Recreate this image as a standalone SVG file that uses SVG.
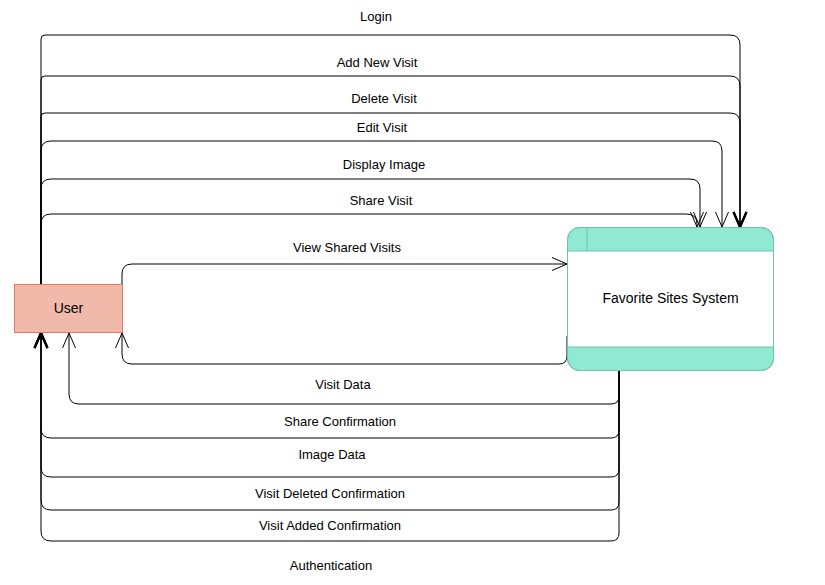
<svg xmlns="http://www.w3.org/2000/svg" width="825" height="585" viewBox="0 0 825 585">
<defs>
<marker id="open" markerUnits="userSpaceOnUse" viewBox="-17 -9 19 18" refX="0" refY="0" markerWidth="19" markerHeight="18" orient="auto">
<path d="M-15,-6.5 L0,0 L-15,6.5" fill="none" stroke="#000" stroke-width="1"/>
</marker>
<marker id="openBold" markerUnits="userSpaceOnUse" viewBox="-17 -9 19 18" refX="0" refY="0" markerWidth="19" markerHeight="18" orient="auto">
<path d="M-15,-6.5 L0,0 L-15,6.5" fill="none" stroke="#000" stroke-width="2"/>
</marker>
<style>
.c{fill:none;stroke:#000;stroke-width:1}
.a{marker-end:url(#open)}
.b{marker-end:url(#openBold)}
.t{font-family:"Liberation Sans",Arial,sans-serif;font-size:13px;fill:#000;text-anchor:middle}
.n{font-family:"Liberation Sans",Arial,sans-serif;font-size:14px;fill:#000;text-anchor:middle}
</style>
</defs>
<rect width="825" height="585" fill="#fff"/>
<g id="connectors">
<path class="c b" d="M41,284 L41,39 Q41,35 45,35 L730,35 Q740,35 740,45 L740,227"/>
<path class="c b" d="M41,284 L41,80 Q41,76 45,76 L730,76 Q740,76 740,86 L740,227"/>
<path class="c b" d="M41,284 L41,117 Q41,113 45,113 L730,113 Q740,113 740,123 L740,227"/>
<path class="c a" d="M41,284 L41,151 Q41,141 51,141 L712,141 Q722,141 722,151 L722,227"/>
<path class="c a" d="M41,284 L41,189 Q41,179 51,179 L690,179 Q700,179 700,189 L700,227"/>
<path class="c a" d="M41,284 L41,224 Q41,214 51,214 L686,214 Q697,214 697,224 L697,227"/>
<path class="c a" d="M122,296 L122,274 Q122,264 132,264 L567,264"/>
<path class="c a" d="M567,336 L567,356 Q567,364 559,364 L132,364 Q122,364 122,354 L122,333"/>
<path class="c a" d="M619,371 L619,396 Q619,404 611,404 L79,404 Q69,404 69,394 L69,333"/>
<path class="c b" d="M619,371 L619,430 Q619,438 611,438 L51,438 Q41,438 41,428 L41,333"/>
<path class="c b" d="M619,371 L619,469 Q619,477 611,477 L51,477 Q41,477 41,467 L41,333"/>
<path class="c b" d="M619,371 L619,502 Q619,510 611,510 L51,510 Q41,510 41,500 L41,333"/>
<path class="c b" d="M619,371 L619,533 Q619,541 611,541 L51,541 Q41,541 41,531 L41,333"/>
</g>
<g id="labels">
<text class="t" x="376" y="20.5">Login</text>
<text class="t" x="377" y="66.5">Add New Visit</text>
<text class="t" x="384" y="102.5">Delete Visit</text>
<text class="t" x="382" y="131.5">Edit Visit</text>
<text class="t" x="384" y="168.5">Display Image</text>
<text class="t" x="381" y="204.5">Share Visit</text>
<text class="t" x="347" y="251.5">View Shared Visits</text>
<text class="t" x="343" y="388.5">Visit Data</text>
<text class="t" x="340" y="425.5">Share Confirmation</text>
<text class="t" x="332" y="458.5">Image Data</text>
<text class="t" x="330" y="497.5">Visit Deleted Confirmation</text>
<text class="t" x="330" y="529.5">Visit Added Confirmation</text>
<text class="t" x="331" y="569.5">Authentication</text>
</g>
<g id="user">
<rect x="14.5" y="284.5" width="108" height="48" fill="#F0B9A9" stroke="#E07B60"/>
<text class="n" x="68.5" y="313">User</text>
</g>
<g id="system">
<rect x="567.5" y="227.5" width="206" height="143" rx="12" ry="12" fill="#8FEAD1" stroke="#72C4A8"/>
<rect x="568" y="251" width="205" height="96" fill="#fff"/>
<rect x="567.5" y="227.5" width="206" height="143" rx="12" ry="12" fill="none" stroke="#72C4A8"/>
<line x1="568" y1="251" x2="773" y2="251" stroke="#72C4A8"/>
<line x1="568" y1="347" x2="773" y2="347" stroke="#72C4A8"/>
<line x1="587" y1="228" x2="587" y2="251" stroke="#72C4A8"/>
<text class="n" x="670.5" y="303">Favorite Sites System</text>
</g>
</svg>
